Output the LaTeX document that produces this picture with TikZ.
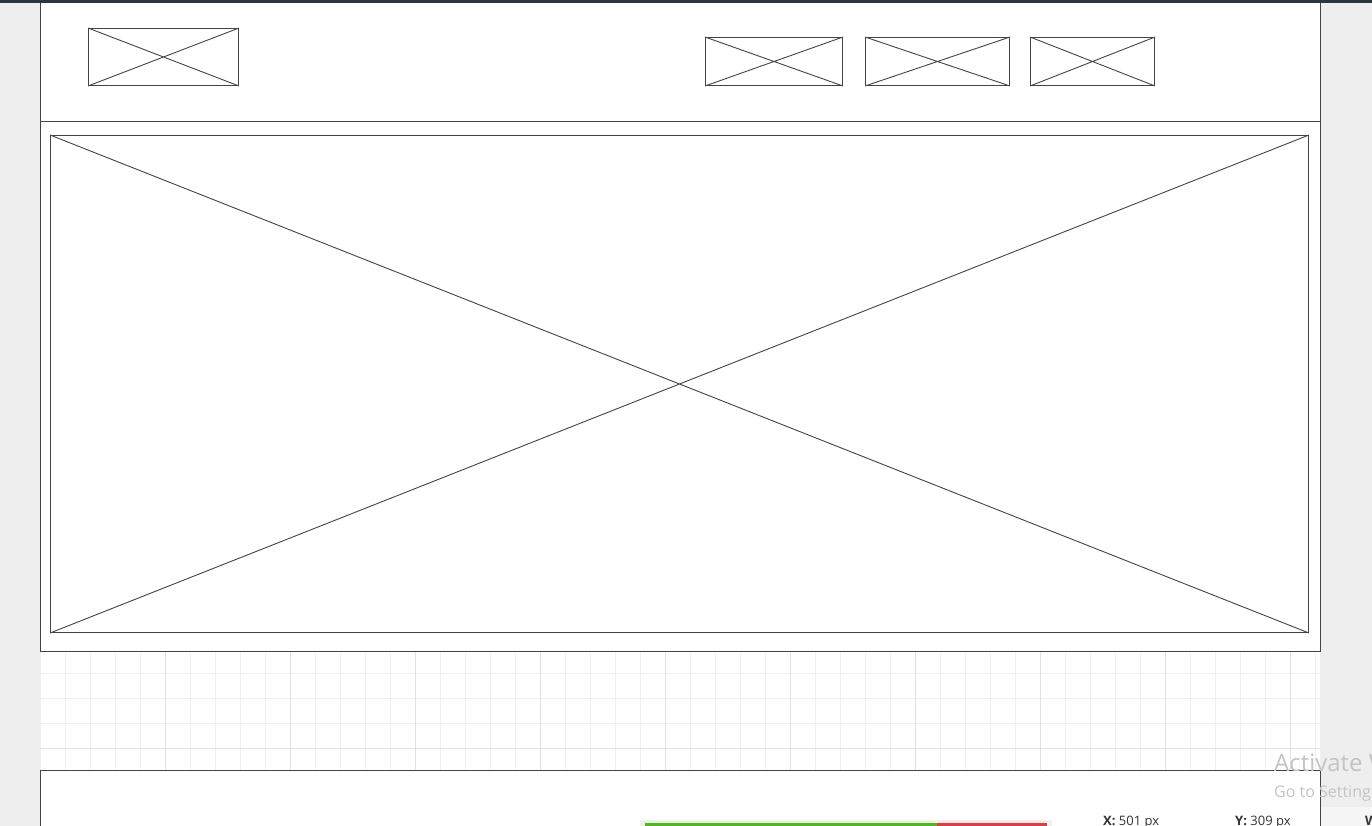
\documentclass[tikz,border=0pt]{standalone}
\usepackage{fontspec}
\setmainfont{Open Sans}
\usetikzlibrary{positioning, calc}
\definecolor{wireline}{RGB}{68,68,68}
\definecolor{canvasgrey}{RGB}{238,238,238}
\definecolor{gridminor}{RGB}{240,240,240}
\definecolor{gridmajor}{RGB}{226,226,226}
\definecolor{topbar}{RGB}{46,52,64}
\definecolor{washtext}{RGB}{196,196,196}
\definecolor{barok}{RGB}{76,187,23}
\definecolor{barbad}{RGB}{234,56,66}

\begin{document}
\begin{tikzpicture}[x=1pt, y=-1pt,
    frame/.style={draw=wireline, line width=1pt, anchor=north west, inner sep=0pt, fill=white},
    placeholder/.style={draw=wireline, line width=1pt, anchor=north west, inner sep=0pt},
    crossline/.style={draw=wireline, line width=0.9pt},
    statustext/.style={anchor=base west, inner sep=0pt, text=black!80, font=\fontsize{13}{15}\selectfont}]
        \useasboundingbox (0,0) rectangle (1372,826);
        \clip (0,0) rectangle (1372,826);
        \fill[canvasgrey] (0,0) rectangle (1372,826);
        \fill[white] (40,0) rectangle (1320,826);

        % grid between the section and the footer
        \foreach \gx in {40,65,...,1315}
            \draw[gridminor, line width=1pt] (\gx,651) -- (\gx,770);
        \foreach \gy in {673,698,723}
            \draw[gridminor, line width=1pt] (40,\gy) -- (1320,\gy);
        \foreach \gx in {165,290,...,1290}
            \draw[gridmajor, line width=1pt] (\gx,651) -- (\gx,770);
        \draw[gridmajor, line width=1pt] (40,748) -- (1320,748);

        % page blocks
        \node[frame, minimum width=1280pt, minimum height=121pt] at (40,0) (header) {};
        \node[frame, minimum width=1280pt, minimum height=530pt] at (40,121) (section) {};
        \node[frame, minimum width=1280pt, minimum height=80pt] at (40,770) (footer) {};
        \fill[topbar] (0,0) rectangle (1372,3);

        % image placeholders
        \node[placeholder, minimum width=150pt, minimum height=57pt] at (88,28) (logo) {};
        \node[placeholder, minimum width=137pt, minimum height=48pt] at (705,37) (navone) {};
        \node[placeholder, minimum width=144pt, minimum height=48pt] at (865,37) (navtwo) {};
        \node[placeholder, minimum width=124pt, minimum height=48pt] at (1030,37) (navthree) {};
        \node[placeholder, minimum width=1258pt, minimum height=497pt] at (50,135) (hero) {};
        \foreach \ph in {logo,navone,navtwo,navthree,hero}
            \draw[crossline] (\ph.north west) -- (\ph.south east) (\ph.south west) -- (\ph.north east);

        % status strip
        \fill[canvasgrey!60] (1320.5,807) rectangle (1372,826);
        \fill[black!6] (640,820) rectangle (1052,826);
        \fill[barok] (645,823) rectangle (937,826);
        \fill[barbad] (937,823) rectangle (1047,826);
        \node[statustext] at (1103,825) (xpos) {\textbf{X:} 501 px};
        \node[statustext] at (1235,825) (ypos) {\textbf{Y:} 309 px};
        \node[statustext] at (1365,825) (wtab) {\textbf{W}};

        % watermark
        \node[anchor=base west, inner sep=0pt, text=washtext, font=\fontsize{24}{28}\selectfont] at (1274,771) (watermark) {Activate Windows};
        \node[anchor=base west, inner sep=0pt, text=washtext, font=\fontsize{16}{19}\selectfont] at (1274,797) (watermarksub) {Go to Settings to activate Windows.};
    \end{tikzpicture}
\end{document}
